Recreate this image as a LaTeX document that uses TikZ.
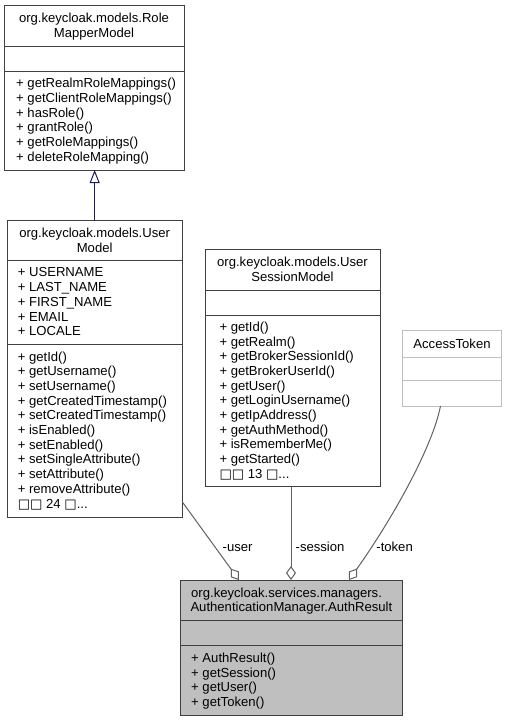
\documentclass[tikz,border=0pt]{standalone}
\usepackage{fontspec}
\setmainfont{Liberation Sans}
\newfontfamily\tofu{DejaVu Sans}
\usetikzlibrary{arrows.meta,calc}
\definecolor{boxline}{HTML}{404040}
\definecolor{edgeline}{HTML}{606060}
\definecolor{inhline}{HTML}{191970}
\definecolor{authfill}{HTML}{BFBFBF}
\definecolor{lightline}{HTML}{BFBFBF}
\newcommand\tofutail[1]{{\tofu □□} #1 {\tofu □}...}
\newcommand\memberlines[4]{%
  \foreach \t [count=\i] in {#4} {
    \node[memb] (#1-\i) at (#2, {#3+(\i-1)*14.7}) {\t};
  }%
}
\begin{document}
\begin{tikzpicture}[x=1pt,y=-1pt,
  every node/.style={font=\fontsize{13.1}{14.7}\selectfont},
  classbox/.style={draw=boxline, line width=1pt, rectangle, inner sep=0pt, outer sep=0pt, anchor=north west},
  divider/.style={draw=boxline, line width=1pt},
  memb/.style={inner sep=0pt, anchor=base west},
  headc/.style={inner sep=0pt, anchor=base},
  agg/.style={draw=edgeline, line width=1pt, -{Diamond[open, length=14pt, width=10pt]}},
  inherit/.style={draw=inhline, line width=1pt, -{Triangle[open, length=13pt, width=10pt]}},
  elabel/.style={inner sep=0pt, anchor=base west}
]
\useasboundingbox (0,0) rectangle (509,721);

% RoleMapperModel
\node[classbox, minimum width=180pt, minimum height=165pt] (role) at (4,5) {};
\draw[divider] (role.west |- 0,46) -- (role.east |- 0,46);
\draw[divider] (role.west |- 0,71) -- (role.east |- 0,71);
\node[headc] (roleh1) at (94,22.65) {org.keycloak.models.Role};
\node[headc] (roleh2) at (94,37.35) {MapperModel};
\memberlines{rolem}{16}{87.75}{{+ getRealmRoleMappings()},{+ getClientRoleMappings()},{+ hasRole()},{+ grantRole()},{+ getRoleMappings()},{+ deleteRoleMapping()}}

% UserModel
\node[classbox, minimum width=174.7pt, minimum height=296.3pt] (user) at (7.3,220.7) {};
\draw[divider] (user.west |- 0,260.7) -- (user.east |- 0,260.7);
\draw[divider] (user.west |- 0,344) -- (user.east |- 0,344);
\node[headc] (userh1) at (94.65,237.85) {org.keycloak.models.User};
\node[headc] (userh2) at (94.65,252.55) {Model};
\memberlines{usera}{17.6}{276.95}{{+ USERNAME},{+ LAST\_NAME},{+ FIRST\_NAME},{+ EMAIL},{+ LOCALE}}
\memberlines{userm}{17.6}{361}{{+ getId()},{+ getUsername()},{+ setUsername()},{+ getCreatedTimestamp()},{+ setCreatedTimestamp()},{+ isEnabled()},{+ setEnabled()},{+ setSingleAttribute()},{+ setAttribute()},{+ removeAttribute()},{\tofutail{24}}}

% UserSessionModel
\node[classbox, minimum width=175pt, minimum height=237.4pt] (session) at (205,249.3) {};
\draw[divider] (session.west |- 0,290) -- (session.east |- 0,290);
\draw[divider] (session.west |- 0,315) -- (session.east |- 0,315);
\node[headc] (sessh1) at (292.5,266.8) {org.keycloak.models.User};
\node[headc] (sessh2) at (292.5,281.5) {SessionModel};
\memberlines{sessm}{219.3}{331.35}{{+ getId()},{+ getRealm()},{+ getBrokerSessionId()},{+ getBrokerUserId()},{+ getUser()},{+ getLoginUsername()},{+ getIpAddress()},{+ getAuthMethod()},{+ isRememberMe()},{+ getStarted()},{\tofutail{13}}}

% AccessToken
\node[classbox, draw=lightline, minimum width=99.4pt, minimum height=76pt] (token) at (402.3,330) {};
\draw[divider, draw=lightline] (token.west |- 0,357.3) -- (token.east |- 0,357.3);
\draw[divider, draw=lightline] (token.west |- 0,380) -- (token.east |- 0,380);
\node[headc] (tokenh) at (452,348.15) {AccessToken};

% AuthResult
\node[classbox, fill=authfill, minimum width=222pt, minimum height=135pt] (auth) at (180.7,580) {};
\draw[divider] (auth.west |- 0,620) -- (auth.east |- 0,620);
\draw[divider] (auth.west |- 0,645.7) -- (auth.east |- 0,645.7);
\node[memb] (authh1) at (191,597.15) {org.keycloak.services.managers.};
\node[memb] (authh2) at (190.3,611.85) {AuthenticationManager.AuthResult};
\memberlines{authm}{191}{662.3}{{+ AuthResult()},{+ getSession()},{+ getUser()},{+ getToken()}}

% inheritance
\draw[inherit] (user.north) -- (user.north |- role.south);

% aggregations
\draw[agg] ([yshift=15.5pt]user.south east) -- ([xshift=58.3pt]auth.north west);
\draw[agg] ([xshift=-1.5pt]session.south) -- ([xshift=-1.5pt]session.south |- auth.north);
\draw[agg] ([xshift=-11.5pt]token.south) .. controls (433,445) and (395,515) .. ([xshift=168.3pt]auth.north west);

\node[elabel] (luser) at (222.5,551.5) {-user};
\node[elabel] (lsession) at (295.5,551.5) {-session};
\node[elabel] (ltoken) at (376.2,551.5) {-token};
\end{tikzpicture}
\end{document}
